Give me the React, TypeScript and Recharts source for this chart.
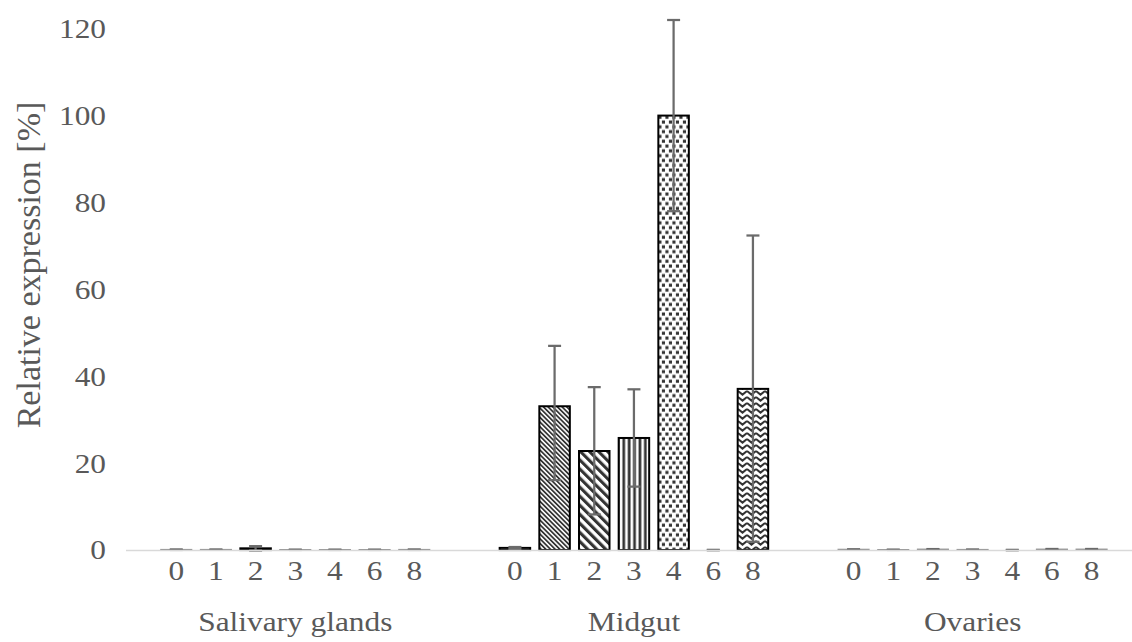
import React from 'react';
import { BarChart, Bar, XAxis, YAxis, ErrorBar, LabelList } from 'recharts';

// Tissues on the category axis, sampling days as the bar series
const tissues = ['Salivary glands', 'Midgut', 'Ovaries'];
const days = ['0', '1', '2', '3', '4', '6', '8'];
const yTicks = [0, 20, 40, 60, 80, 100, 120];

// Mean relative expression [%] per day
const salivaryMean = [0.08, 0.08, 0.4, 0.06, 0.06, 0.06, 0.08];
const midgutMean = [0.5, 33.1, 22.8, 25.8, 100, 0, 37.1];
const ovariesMean = [0.12, 0.06, 0.15, 0.08, 0, 0.15, 0.15];

// Error bar extents below / above the mean
const salivaryErrLow = [0.05, 0.04, 0.5, 0.03, 0.03, 0.03, 0.05];
const salivaryErrHigh = [0.05, 0.04, 0.5, 0.03, 0.03, 0.03, 0.05];
const midgutErrLow = [0.2, 17.0, 14.6, 11.2, 22, 0.05, 35.2];
const midgutErrHigh = [0.2, 13.9, 14.7, 11.2, 22, 0.05, 35.3];
const ovariesErrLow = [0.05, 0.03, 0.08, 0.04, 0.05, 0.1, 0.1];
const ovariesErrHigh = [0.05, 0.03, 0.08, 0.04, 0.05, 0.1, 0.1];

const means = [salivaryMean, midgutMean, ovariesMean];
const errLow = [salivaryErrLow, midgutErrLow, ovariesErrLow];
const errHigh = [salivaryErrHigh, midgutErrHigh, ovariesErrHigh];

const data = tissues.map((tissue, ti) => {
  const row: Record<string, any> = { tissue };
  days.forEach((d, di) => {
    row[`d${d}`] = means[ti][di];
    row[`e${d}`] = [errLow[ti][di], errHigh[ti][di]];
  });
  return row;
});

const dayFills: Record<string, string> = {
  '0': '#ffffff',
  '1': 'url(#patFineDiag)',
  '2': 'url(#patWideDiag)',
  '3': 'url(#patVertical)',
  '4': 'url(#patConfetti)',
  '6': '#ffffff',
  '8': 'url(#patZigzag)',
};

const FONT = '"Liberation Serif", "Times New Roman", Times, serif';
const TEXT = '#595959';
const INK = '#333333';
const SX = 1.12;
const FS = 28;

function StretchText({ x, y, anchor, children, baseline }: any) {
  return (
    <text
      transform={`translate(${x},${y}) scale(${SX},1)`}
      x={0}
      y={0}
      textAnchor={anchor}
      dominantBaseline={baseline}
      fontFamily={FONT}
      fontSize={FS}
      fill={TEXT}
    >
      {children}
    </text>
  );
}

const YTick = (props: any) => (
  <StretchText x={props.x} y={props.y} anchor="end" baseline="central">
    {props.payload.value}
  </StretchText>
);

const XTick = (props: any) => (
  <StretchText x={props.x} y={props.y + 80.5} anchor="middle">
    {props.payload.value}
  </StretchText>
);

const dayLabel = (day: string) => (props: any) => {
  const vb = props.viewBox ?? props;
  const x = Number(vb.x) + Number(vb.width) / 2;
  const base = Number(vb.y) + Math.max(0, Number(vb.height));
  return (
    <StretchText x={x} y={base + 29.5} anchor="middle">
      {day}
    </StretchText>
  );
};

// Bars of zero height keep their slot (and day label) but draw nothing;
// hairline bars get a softer outline
const BarShape = (props: any) => {
  const { x, y, width, height, fill } = props;
  if (!(height > 0.05)) return null;
  const thin = height < 1;
  return (
    <rect
      x={x}
      y={y}
      width={width}
      height={height}
      fill={fill}
      stroke={thin ? '#8a8a8a' : '#000'}
      strokeWidth={thin ? 1.6 : 2}
    />
  );
};

const AxisTitle = () => (
  <text
    transform="translate(28,265) rotate(-90)"
    textAnchor="middle"
    dominantBaseline="central"
    fontFamily={FONT}
    fontSize={34}
    fill={TEXT}
  >
    Relative expression [%]
  </text>
);

function Patterns() {
  return (
    <svg width={0} height={0} style={{ position: 'absolute' }}>
      <defs>
        <pattern id="patFineDiag" width={3.3} height={3.3} patternUnits="userSpaceOnUse" patternTransform="rotate(-45)">
          <rect width={3.3} height={3.3} fill="#fff" />
          <rect width={1.75} height={3.3} fill={INK} />
        </pattern>
        <pattern id="patWideDiag" width={6.4} height={6.4} patternUnits="userSpaceOnUse" patternTransform="rotate(-45)">
          <rect width={6.4} height={6.4} fill="#fff" />
          <rect width={3.1} height={6.4} fill={INK} />
        </pattern>
        <pattern id="patVertical" width={5.4} height={5.4} patternUnits="userSpaceOnUse">
          <rect width={5.4} height={5.4} fill="#fff" />
          <rect x={1.4} width={2.7} height={5.4} fill={INK} />
        </pattern>
        <pattern id="patConfetti" width={7} height={9.6} patternUnits="userSpaceOnUse">
          <rect width={7} height={9.6} fill="#fff" />
          <rect x={0.4} y={0.5} width={3.1} height={3.1} fill={INK} />
          <rect x={3.9} y={5.3} width={3.1} height={3.1} fill={INK} />
        </pattern>
        <pattern id="patZigzag" width={9} height={6} patternUnits="userSpaceOnUse">
          <rect width={9} height={6} fill="#fff" />
          <path d="M0,1 L4.5,4.6 L9,1" stroke={INK} strokeWidth={2} fill="none" />
        </pattern>
      </defs>
    </svg>
  );
}

export default function App() {
  return (
    <div
      style={{
        position: 'fixed',
        left: 0,
        top: 0,
        width: 1132,
        height: 642,
        overflow: 'hidden',
        background: '#fff',
      }}
    >
      <Patterns />
      <BarChart
        width={1160}
        height={642}
        data={data}
        margin={{ top: 20, right: 18, bottom: 32, left: 0 }}
        barSize={30.5}
        barGap={9.17}
      >
        <XAxis
          dataKey="tissue"
          height={59.5}
          tickLine={false}
          tickSize={0}
          tickMargin={0}
          axisLine={{ stroke: '#d9d9d9', strokeWidth: 1.5 }}
          tick={<XTick />}
          interval={0}
        />
        <YAxis
          width={126}
          domain={[0, 120]}
          ticks={yTicks}
          axisLine={false}
          tickLine={false}
          tickSize={0}
          tickMargin={20}
          tick={<YTick />}
          label={<AxisTitle />}
        />
        {days.map((d) => (
          <Bar
            key={d}
            dataKey={`d${d}`}
            fill={dayFills[d]}
            stroke="#000"
            strokeWidth={2}
            minPointSize={(v: any) => (Number(v) === 0 ? 0.01 : 0)}
            shape={BarShape}
            isAnimationActive={false}
          >
            <ErrorBar
              dataKey={`e${d}`}
              width={6.5}
              stroke="#6b6b6b"
              strokeWidth={2.25}
              direction="y"
              isAnimationActive={false}
            />
            <LabelList dataKey={`d${d}`} content={dayLabel(d)} />
          </Bar>
        ))}
      </BarChart>
    </div>
  );
}
